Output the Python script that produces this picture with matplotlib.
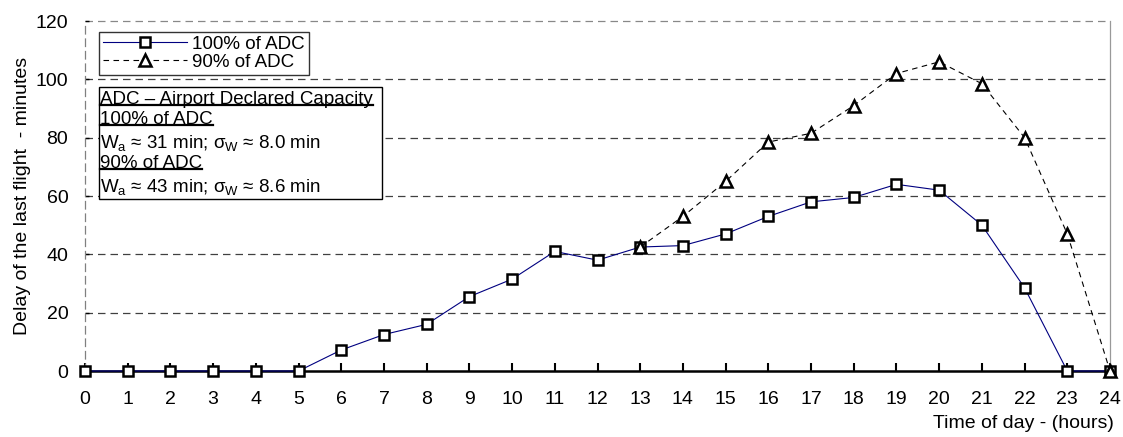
import numpy as np
import matplotlib.pyplot as plt
from matplotlib.patches import Rectangle

plt.rcParams['font.family'] = ['Liberation Sans', 'DejaVu Sans']
plt.rcParams['mathtext.fontset'] = 'custom'
plt.rcParams['mathtext.rm'] = 'Liberation Sans'
plt.rcParams['mathtext.it'] = 'Liberation Sans'

# data
hours = list(range(25))
delay_100 = [0, 0, 0, 0, 0, 0, 7.2, 12.5, 16, 25.5, 31.5, 41, 38, 42.5, 43,
             47, 53, 58, 59.5, 64, 62, 50, 28.5, 0, 0]
hours_90 = list(range(13, 25))
delay_90 = [42.5, 53, 65, 78.5, 81.5, 91, 102, 106, 98.5, 80, 47, 0]

y_ticks = [0, 20, 40, 60, 80, 100, 120]

# axes box in pixels: left 85, right 1110, top 21, bottom 371
L, R, T, B = 85, 1110, 21, 371
fig = plt.figure(figsize=(11.23, 4.37), dpi=100)
ax = fig.add_axes([L / 1123, 1 - B / 437, (R - L) / 1123, (B - T) / 437])

# horizontal dashed grid
for yv in y_ticks[1:]:
    c = '#888888' if yv == 120 else '#404040'
    ax.axhline(yv, color=c, lw=0.9, ls=(0, (6, 4)), zorder=1, clip_on=False)

ax.plot(hours, delay_100, color='#000080', lw=0.8, marker='s', ms=7,
        mfc='white', mec='black', mew=1.8, clip_on=False, zorder=4,
        label='100% of ADC')
ax.plot(hours_90, delay_90, color='black', lw=0.8, ls=(0, (5, 4)), marker='^',
        ms=8.5, mfc='white', mec='black', mew=1.8, clip_on=False, zorder=5,
        label='90% of ADC')

ax.set_xlim(0, 24)
ax.set_ylim(0, 120)
ax.set_xticks(hours)
ax.set_yticks(y_ticks)
ax.tick_params(axis='x', direction='in', length=5.5, width=1.5, pad=14.5,
               labelsize=14, colors='black')
ax.tick_params(axis='y', direction='in', length=3, width=1.0, pad=12,
               labelsize=14)

ax.spines['top'].set_visible(False)
ax.spines['left'].set_color('#808080')
ax.spines['left'].set_linestyle((0, (6, 4)))
ax.spines['left'].set_linewidth(0.9)
ax.spines['right'].set_color('#999999')
ax.spines['right'].set_linewidth(0.9)
ax.spines['bottom'].set_linewidth(1.8)
ax.spines['bottom'].set_zorder(3)

ax.set_ylabel('Delay of the last flight  - minutes', fontsize=14)
ax.yaxis.set_label_coords((31 - L) / (R - L), 0.5)
fig.text(1114 / 1123, 1 - 423 / 437, 'Time of day - (hours)', fontsize=14,
         ha='right', va='center')


def ax_xy(px, py):
    return (px - L) / (R - L), (B - py) / (B - T)


leg = ax.legend(loc='upper left', bbox_to_anchor=ax_xy(99, 32),
                fontsize=13.5, frameon=True, fancybox=False, handlelength=4.5,
                handletextpad=0.27, borderpad=0.2, labelspacing=0.05,
                borderaxespad=0)
leg.get_frame().set_edgecolor('black')
leg.get_frame().set_linewidth(1.0)

# annotation box
x0, y0 = ax_xy(99, 199)
x1, y1 = ax_xy(382, 87)
ax.add_patch(Rectangle((x0, y0), x1 - x0, y1 - y0, transform=ax.transAxes,
                       facecolor='white', edgecolor='black', lw=1.0, zorder=6))

box_lines = [
    ('ADC – Airport Declared Capacity', 99, True),
    ('100% of ADC', 119, True),
    (r'W$_{\mathrm{a}}$ ≈ 31 min; σ$_{\mathrm{W}}$ ≈ 8.0 min', 143, False),
    ('90% of ADC', 163, True),
    (r'W$_{\mathrm{a}}$ ≈ 43 min; σ$_{\mathrm{W}}$ ≈ 8.6 min', 187, False),
]
txts = []
for s, py, ul in box_lines:
    tx, ty = ax_xy(100, py)
    t = ax.text(tx, ty, s, transform=ax.transAxes, fontsize=13.5, va='center',
                ha='left', zorder=7)
    txts.append((t, ul))

fig.canvas.draw()
rend = fig.canvas.get_renderer()
inv = ax.transAxes.inverted()
for t, ul in txts:
    if not ul:
        continue
    bb = t.get_window_extent(rend)
    (ax0, ay0), (ax1, _) = inv.transform([(bb.x0, bb.y0), (bb.x1, bb.y1)])
    ax.plot([ax0, ax1], [ay0 + 0.006, ay0 + 0.006], transform=ax.transAxes,
            color='black', lw=1.6, zorder=7, clip_on=False)

fig.savefig('out.png', dpi=100)
